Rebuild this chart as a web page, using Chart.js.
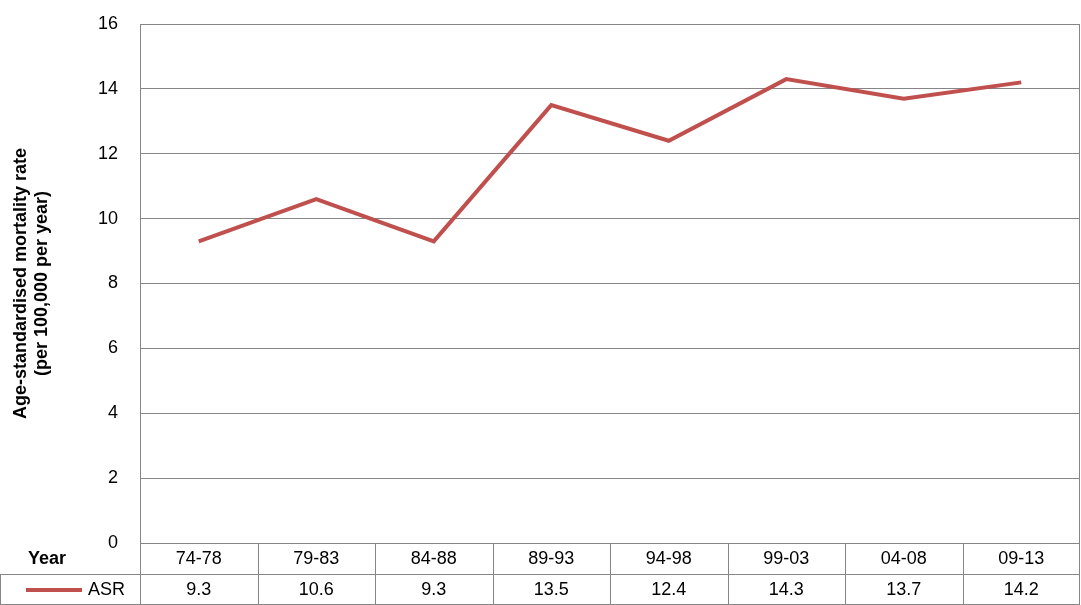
<!DOCTYPE html>
<html>
<head>
<meta charset="utf-8">
<script src="https://cdn.jsdelivr.net/npm/chart.js@4/dist/chart.umd.min.js"></script>
<style>
  html, body { margin: 0; padding: 0; background: #fff; }
  #wrap { width: 1081px; height: 605px; }
</style>
</head>
<body>
<div id="wrap"><canvas id="c"></canvas></div>
<script>
const periods = ['74-78', '79-83', '84-88', '89-93', '94-98', '99-03', '04-08', '09-13'];
const asr = [9.3, 10.6, 9.3, 13.5, 12.4, 14.3, 13.7, 14.2];
const seriesName = 'ASR';
const rowLabel = 'Year';
const lineColor = '#C0504D';
const gridColor = '#868686';
const font = 'Liberation Sans, Arial, sans-serif';

// draws the Excel-style data table under the plot, plus the plot's side borders
const dataTable = {
    id: 'dataTable',
    afterDraw(chart) {
        const ctx = chart.ctx;
        const x = chart.scales.x;
        const area = chart.chartArea;
        const r2 = chart.height - 1;
        const rowH = (r2 - area.bottom) / 2;
        const r1 = Math.round(area.bottom + rowH);
        const half = (x.getPixelForValue(1) - x.getPixelForValue(0)) / 2;
        ctx.save();
        ctx.strokeStyle = gridColor;
        ctx.lineWidth = 1;
        ctx.beginPath();
        ctx.moveTo(Math.round(area.left) + 0.5, area.top); ctx.lineTo(Math.round(area.left) + 0.5, area.bottom);
        ctx.moveTo(Math.round(area.right) - 0.5, area.top); ctx.lineTo(Math.round(area.right) - 0.5, area.bottom);
        ctx.moveTo(area.left, Math.round(area.bottom) + 0.5); ctx.lineTo(area.right, Math.round(area.bottom) + 0.5);
        ctx.moveTo(0, r1 + 0.5); ctx.lineTo(area.right, r1 + 0.5);
        ctx.moveTo(0, r2 + 0.5); ctx.lineTo(area.right, r2 + 0.5);
        ctx.moveTo(0.5, r1); ctx.lineTo(0.5, r2);
        for (let i = 0; i <= periods.length; i++) {
            let px = Math.round(x.getPixelForValue(i) - half) + 0.5;
            if (i === periods.length) px -= 1;
            ctx.moveTo(px, area.bottom); ctx.lineTo(px, r2);
        }
        ctx.stroke();
        ctx.fillStyle = '#000';
        ctx.font = '18px ' + font;
        ctx.textAlign = 'center';
        ctx.textBaseline = 'middle';
        periods.forEach((p, i) => {
            const px = x.getPixelForValue(i);
            ctx.fillText(p, px, (area.bottom + r1) / 2 + 1);
            ctx.fillText(String(asr[i]), px, (r1 + r2) / 2 + 1);
        });
        ctx.font = 'bold 18px ' + font;
        ctx.textAlign = 'left';
        ctx.fillText(rowLabel, 28, (area.bottom + r1) / 2 + 1);
        ctx.font = '18px ' + font;
        ctx.fillText(seriesName, 88, (r1 + r2) / 2 + 1);
        ctx.strokeStyle = lineColor;
        ctx.lineWidth = 4;
        ctx.beginPath();
        ctx.moveTo(26, (r1 + r2) / 2 + 1);
        ctx.lineTo(82, (r1 + r2) / 2 + 1);
        ctx.stroke();
        ctx.restore();
    }
};

new Chart(document.getElementById('c'), {
    type: 'line',
    data: {
        labels: periods,
        datasets: [{
            label: seriesName,
            data: asr,
            borderColor: lineColor,
            borderWidth: 4,
            pointRadius: 0,
            tension: 0,
        }],
    },
    options: {
        responsive: true,
        maintainAspectRatio: false,
        animation: false,
        layout: { padding: { top: 24, right: 1, bottom: 54, left: 0 } },
        scales: {
            x: {
                offset: true,
                ticks: { display: false },
                grid: { display: false },
                border: { display: false },
            },
            y: {
                min: 0,
                max: 16,
                ticks: { stepSize: 2, color: '#000', font: { size: 18, family: font }, padding: 22 },
                grid: { color: gridColor, drawTicks: false },
                border: { display: false },
                title: {
                    display: true,
                    text: ['Age-standardised mortality rate', '(per 100,000 per year)'],
                    color: '#000',
                    font: { size: 18, weight: 'bold', family: font },
                    padding: { top: 10, bottom: 10 },
                },
                afterFit(scale) {
                    scale.width = 140;
                    scale.paddingTop = 0;
                    scale.paddingBottom = 0;
                },
            },
        },
        plugins: { legend: { display: false }, tooltip: { enabled: false } },
    },
    plugins: [dataTable],
});
</script>
</body>
</html>
